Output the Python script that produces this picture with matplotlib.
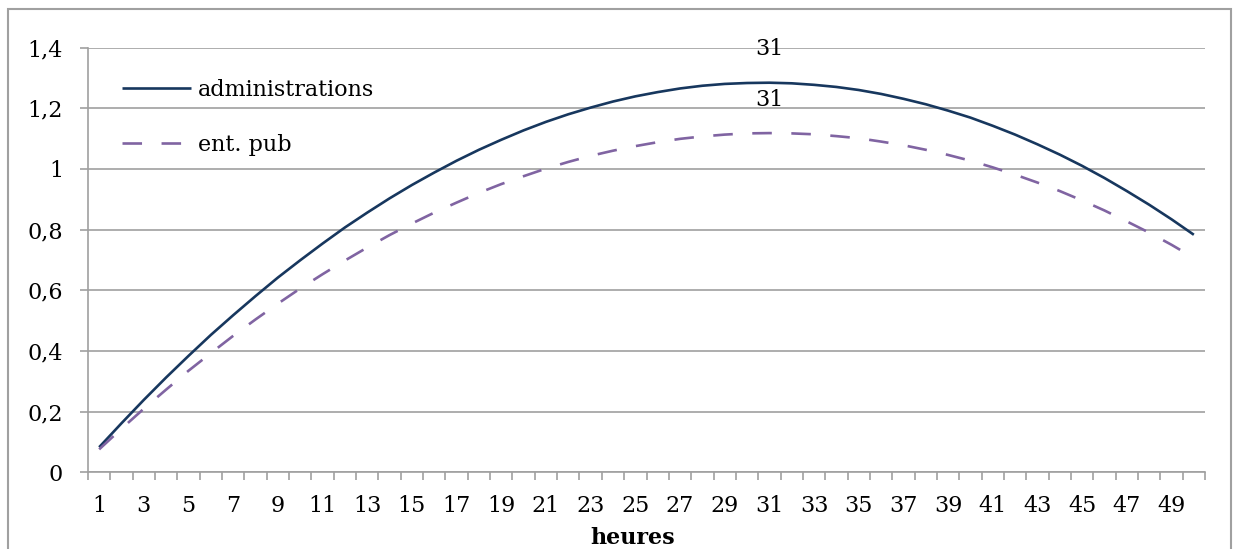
import matplotlib
matplotlib.use("Agg")
import matplotlib.pyplot as plt
from matplotlib.patches import Rectangle
from matplotlib.ticker import FixedLocator, FuncFormatter

# heures 1..50 et les deux courbes
heures = list(range(1, 51))
administrations = [
    0.083, 0.162, 0.239, 0.313, 0.384, 0.453, 0.518, 0.581, 0.642, 0.699,
    0.754, 0.807, 0.856, 0.903, 0.947, 0.988, 1.027, 1.063, 1.096, 1.127,
    1.155, 1.180, 1.202, 1.222, 1.239, 1.253, 1.265, 1.274, 1.280, 1.283,
    1.284, 1.282, 1.277, 1.270, 1.260, 1.247, 1.231, 1.213, 1.192, 1.169,
    1.142, 1.113, 1.081, 1.047, 1.010, 0.970, 0.927, 0.882, 0.834, 0.783,
]
ent_pub = [
    0.076, 0.144, 0.210, 0.273, 0.335, 0.393, 0.450, 0.504, 0.556, 0.606,
    0.653, 0.698, 0.741, 0.782, 0.820, 0.856, 0.889, 0.921, 0.950, 0.976,
    1.001, 1.023, 1.043, 1.060, 1.075, 1.088, 1.099, 1.107, 1.113, 1.117,
    1.118, 1.117, 1.114, 1.108, 1.101, 1.090, 1.078, 1.063, 1.046, 1.027,
    1.005, 0.981, 0.955, 0.927, 0.896, 0.863, 0.827, 0.790, 0.750, 0.707,
]
y_ticks = [0, 0.2, 0.4, 0.6, 0.8, 1.0, 1.2, 1.4]
x_labels = heures[::2]
heure_max = 31

plt.rcParams["font.family"] = "DejaVu Serif"
plt.rcParams["font.size"] = 16
grey = "#a0a0a0"

W, H = 1235, 549
fig = plt.figure(figsize=(W / 100, H / 100), dpi=100)
ax = fig.add_axes([88 / W, 1 - 472.4 / H, 1117 / W, 424.9 / H])

ax.plot(heures, administrations, color="#17375e", lw=1.9,
        label="administrations", solid_capstyle="butt")
ax.plot(heures, ent_pub, color="#8064a2", lw=1.9, linestyle=(0, (7.4, 7.4)),
        label="ent. pub", dash_capstyle="butt")

# étiquettes au sommet
i = heures.index(heure_max)
for serie in (administrations, ent_pub):
    ax.annotate(str(heure_max), (heure_max, serie[i]), xytext=(0, 24),
                textcoords="offset points", ha="center", va="center")

ax.set_xlim(0.5, 50.5)
ax.set_ylim(0, 1.4)
ax.set_yticks(y_ticks)
ax.yaxis.set_major_formatter(FuncFormatter(lambda v, p: f"{v:g}".replace(".", ",")))
ax.grid(axis="y", color=grey, lw=1.2)
ax.set_axisbelow(True)

ax.xaxis.set_major_locator(FixedLocator([h - 0.5 for h in heures] + [50.5]))
ax.xaxis.set_minor_locator(FixedLocator(x_labels))
ax.xaxis.set_major_formatter(FuncFormatter(lambda v, p: ""))
ax.xaxis.set_minor_formatter(FuncFormatter(lambda v, p: f"{v:g}"))
ax.tick_params(axis="x", which="major", length=6, width=1.2, color=grey, direction="out")
ax.tick_params(axis="x", which="minor", length=0, pad=16)
ax.tick_params(axis="y", length=6, width=1.2, color=grey, direction="out", pad=12)

for s in ("top", "right"):
    ax.spines[s].set_visible(False)
for s in ("left", "bottom"):
    ax.spines[s].set_color(grey)
    ax.spines[s].set_linewidth(1.2)

fig.text(633 / W, 1 - 538 / H, "heures", ha="center", va="center", fontweight="bold")

ax.legend(loc="upper left", bbox_to_anchor=(0.0304, 0.926), frameon=False,
          borderpad=0, borderaxespad=0, handlelength=3.1, handletextpad=0.3,
          labelspacing=1.5)

fig.patches.append(Rectangle((8 / W, -0.1), 1223 / W, 1.1 - 9 / H,
                             transform=fig.transFigure, fill=False,
                             edgecolor=grey, lw=1.5))

fig.savefig("out.png", dpi=100)
